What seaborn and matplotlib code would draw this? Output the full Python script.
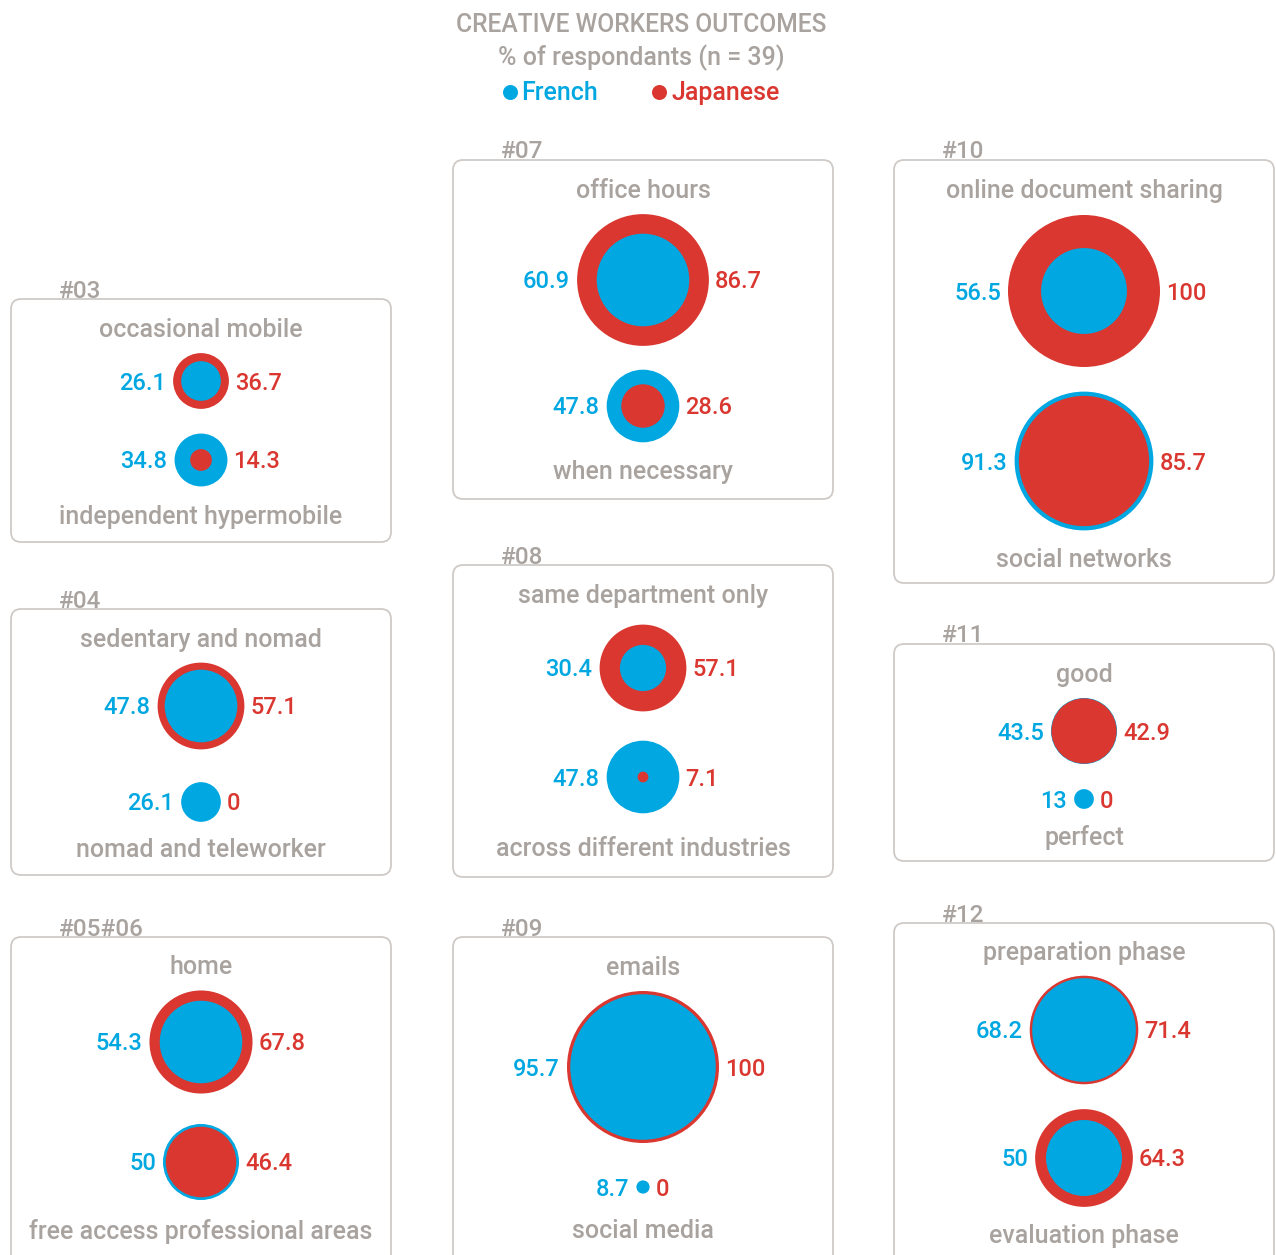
import numpy as np
import pandas as pd
import matplotlib
matplotlib.use("Agg")
import matplotlib.pyplot as plt
import seaborn as sns
from matplotlib.patches import FancyBboxPatch

# =====================================================
# Data
# =====================================================
panel_ids = ["#03", "#04", "#05#06", "#07", "#08", "#09", "#10", "#11", "#12"]
top_labels = ["occasional mobile", "sedentary and nomad", "home",
              "office hours", "same department only", "emails",
              "online document sharing", "good", "preparation phase"]
bottom_labels = ["independent hypermobile", "nomad and teleworker",
                 "free access professional areas", "when necessary",
                 "across different industries", "social media",
                 "social networks", "perfect", "evaluation phase"]
french_top = [26.1, 47.8, 54.3, 60.9, 30.4, 95.7, 56.5, 43.5, 68.2]
japanese_top = [36.7, 57.1, 67.8, 86.7, 57.1, 100, 100, 42.9, 71.4]
french_bottom = [34.8, 26.1, 50, 47.8, 47.8, 8.7, 91.3, 13, 50]
japanese_bottom = [14.3, 0, 46.4, 28.6, 7.1, 0, 85.7, 0, 64.3]

# =====================================================
# Layout (pixels)
# =====================================================
W, H = 1276, 1255
COL_LEFT = [11, 453, 894]
BOX_W = 380
# col, box top, box bottom, title y, circle1 y, circle2 y, bottom label y
LAYOUT = [
    (0, 299, 542, 328, 381, 460, 515),
    (0, 609, 875, 638, 706, 802, 848),
    (0, 937, 1290, 965, 1042, 1162, 1229),
    (1, 160, 499, 189, 280, 406, 470),
    (1, 565, 877, 594, 668, 777, 847),
    (1, 937, 1290, 966, 1067, 1187, 1229),
    (2, 160, 583, 189, 291, 461, 558),
    (2, 644, 861, 673, 731, 799, 836),
    (2, 923, 1290, 951, 1030, 1158, 1234),
]
PX_PER_UNIT = 1.52
GAP = 6
DY = 2  # text nudge downwards

BLUE = "#00A7E1"
RED = "#D93730"
GRAY = "#A9A39F"
EDGE = "#CFCAC7"

sns.set_theme(style="white")
plt.rcParams["font.family"] = ["Roboto", "DejaVu Sans"]
plt.rcParams["font.weight"] = "medium"

fig = plt.figure(figsize=(W / 100, H / 100), dpi=100)
ax = fig.add_axes([0, 0, 1, 1])
ax.set_xlim(0, W)
ax.set_ylim(H, 0)
ax.axis("off")

FS_TEXT = 18
FS_NUM = 17

# =====================================================
# Circles table
# =====================================================
rows = []
for i, lay in enumerate(LAYOUT):
    col, bt, bb, ty, c1, c2, by = lay
    cx = COL_LEFT[col] + BOX_W / 2
    for cy, fv, jv in [(c1, french_top[i], japanese_top[i]),
                       (c2, french_bottom[i], japanese_bottom[i])]:
        rows.append({"x": cx, "y": cy, "series": "French", "value": fv})
        rows.append({"x": cx, "y": cy, "series": "Japanese", "value": jv})
circles = pd.DataFrame(rows)
circles["d_px"] = circles["value"] * PX_PER_UNIT
# bigger disc first so the smaller one stays visible on top
circles = circles.sort_values("d_px", ascending=False).reset_index(drop=True)
sizes = (circles["d_px"] * 0.72) ** 2

sns.scatterplot(data=circles, x="x", y="y", hue="series",
                palette={"French": BLUE, "Japanese": RED},
                s=sizes.values, linewidth=0, legend=False, ax=ax, zorder=3)
ax.set_xlabel("")
ax.set_ylabel("")

# =====================================================
# Boxes and text
# =====================================================
for i, lay in enumerate(LAYOUT):
    col, bt, bb, ty, c1, c2, by = lay
    x0 = COL_LEFT[col]
    cx = x0 + BOX_W / 2
    box = FancyBboxPatch((x0, bt), BOX_W, bb - bt,
                         boxstyle="round,pad=0,rounding_size=10",
                         fc="white", ec=EDGE, lw=1.3, zorder=1)
    ax.add_patch(box)
    ax.text(x0 + 48, bt - 10 + DY, panel_ids[i], color=GRAY, fontsize=17.5,
            ha="left", va="center", zorder=4)
    ax.text(cx, ty + DY, top_labels[i], color=GRAY, fontsize=FS_TEXT,
            ha="center", va="center", zorder=4)
    ax.text(cx, by + DY, bottom_labels[i], color=GRAY, fontsize=FS_TEXT,
            ha="center", va="center", zorder=4)
    for cy, fv, jv in [(c1, french_top[i], japanese_top[i]),
                       (c2, french_bottom[i], japanese_bottom[i])]:
        half = max(fv, jv) * PX_PER_UNIT / 2
        ax.text(cx - half - GAP - 1, cy + DY, f"{fv:g}", color=BLUE, fontsize=FS_NUM,
                ha="right", va="center", zorder=4)
        ax.text(cx + half + GAP, cy + DY, f"{jv:g}", color=RED, fontsize=FS_NUM,
                ha="left", va="center", zorder=4)

# title, subtitle, legend
ax.text(641, 23 + DY, "CREATIVE WORKERS OUTCOMES", color=GRAY, fontsize=17.7,
        ha="center", va="center")
ax.text(641, 56 + DY, "% of respondants (n = 39)", color=GRAY, fontsize=18,
        ha="center", va="center")
ax.scatter([510], [92], s=(15 * 0.72) ** 2, color=BLUE, linewidth=0)
ax.text(521, 91 + DY, "French", color=BLUE, fontsize=18, ha="left", va="center")
ax.scatter([659], [92], s=(15 * 0.72) ** 2, color=RED, linewidth=0)
ax.text(671, 91 + DY, "Japanese", color=RED, fontsize=18, ha="left", va="center")

fig.savefig("out.png", dpi=100)
